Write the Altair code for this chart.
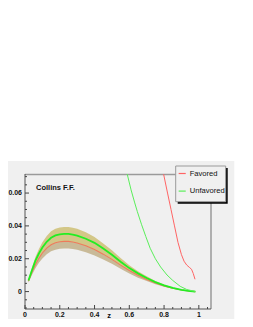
import altair as alt
import pandas as pd

# ---- data ----
z_c = [0.02, 0.04, 0.06, 0.08, 0.10, 0.125, 0.15, 0.175, 0.20, 0.225, 0.25, 0.275,
       0.30, 0.35, 0.40, 0.45, 0.50, 0.55, 0.60, 0.65, 0.70, 0.75, 0.80, 0.85,
       0.90, 0.95, 0.98]
unf_c = [0.0068, 0.0130, 0.0188, 0.0232, 0.0268, 0.0303, 0.0328, 0.0342, 0.0349,
         0.0351, 0.0351, 0.0347, 0.0341, 0.0322, 0.0297, 0.0262, 0.0224, 0.0182,
         0.0143, 0.0111, 0.0083, 0.0058, 0.0038, 0.0022, 0.0011, 0.0003, 0.0]
fav_c = [0.0064, 0.0118, 0.0165, 0.0203, 0.0235, 0.0265, 0.0285, 0.0297, 0.0303,
         0.0306, 0.0306, 0.0302, 0.0296, 0.0279, 0.0256, 0.0228, 0.0196, 0.0161,
         0.0128, 0.0099, 0.0074, 0.0052, 0.0034, 0.0020, 0.0010, 0.0003, 0.0]
band_hi = [0.0076, 0.0146, 0.0211, 0.0260, 0.0300, 0.0339, 0.0367, 0.0383, 0.0391,
           0.0393, 0.0393, 0.0389, 0.0382, 0.0361, 0.0333, 0.0293, 0.0251, 0.0204,
           0.0160, 0.0124, 0.0093, 0.0065, 0.0043, 0.0025, 0.0012, 0.0003, 0.0]
band_lo = [0.0055, 0.0101, 0.0142, 0.0175, 0.0202, 0.0228, 0.0245, 0.0255, 0.0261,
           0.0263, 0.0263, 0.0260, 0.0255, 0.0240, 0.0220, 0.0196, 0.0169, 0.0139,
           0.0110, 0.0085, 0.0064, 0.0045, 0.0029, 0.0017, 0.0009, 0.0003, 0.0]

z_unf_s = [0.575, 0.589, 0.61, 0.63, 0.646, 0.67, 0.695, 0.72, 0.75, 0.78, 0.817,
           0.85, 0.893, 0.93, 0.969, 0.98]
unf_s = [0.079, 0.0711, 0.0620, 0.0545, 0.0488, 0.0410, 0.0335, 0.0264, 0.0200,
         0.0150, 0.0101, 0.0068, 0.0032, 0.0013, 0.0003, 0.0]
z_fav_s = [0.79, 0.798, 0.82, 0.84, 0.86, 0.88, 0.90, 0.915, 0.93, 0.945, 0.958,
           0.968, 0.978]
fav_s = [0.075, 0.0712, 0.060, 0.050, 0.040, 0.030, 0.0225, 0.0185, 0.0162,
         0.0148, 0.0136, 0.011, 0.0075]

series = ["Favored", "Unfavored"]
x_major = [0, 0.2, 0.4, 0.6, 0.8, 1.0]
x_labels = ["0", "0.2", "0.4", "0.6", "0.8", "1"]
x_minor = [0.05, 0.1, 0.15, 0.25, 0.3, 0.35, 0.45, 0.5, 0.55, 0.65, 0.7, 0.75,
           0.85, 0.9, 0.95, 1.05]
y_major = [0, 0.02, 0.04, 0.06]
y_labels = ["0", "0.02", "0.04", "0.06"]
y_minor = [-0.01, -0.005, 0.005, 0.01, 0.015, 0.025, 0.03, 0.035, 0.045, 0.05,
           0.055, 0.065, 0.07]
x_title = "z"
plot_title = "Collins F.F."

W, H = 186, 135
XD = [0, 1.07]
YD = [-0.0106, 0.0716]
FONT = "Liberation Sans"

df_c = pd.DataFrame({"z": z_c, "unf": unf_c, "fav": fav_c, "hi": band_hi, "lo": band_lo})
df_s = pd.concat([
    pd.DataFrame({"z": z_fav_s, "v": fav_s, "series": series[0]}),
    pd.DataFrame({"z": z_unf_s, "v": unf_s, "series": series[1]}),
])
one = pd.DataFrame({"a": [0]})

xs = alt.Scale(domain=XD, nice=False, zero=False)
ys = alt.Scale(domain=YD, nice=False, zero=False)


def X(f):
    return alt.X(f, scale=xs, axis=None)


def Y(f):
    return alt.Y(f, scale=ys, axis=None)


canvas = alt.Chart(one).mark_rect(color="#f0f0f0").encode(
    x=alt.value(-17), x2=alt.value(209.3), y=alt.value(-13), y2=alt.value(145))

base = alt.Chart(df_c)
band_up = base.mark_area(color="#d3c787").encode(
    x=X("z:Q"), y=Y("fav:Q"), y2="hi:Q")
band_dn = base.mark_area(color="#c9ba98").encode(
    x=X("z:Q"), y=Y("lo:Q"), y2="fav:Q")

frame = alt.Chart(one).mark_rule(color="#9a9a9a", strokeWidth=1.5).encode(
    x=alt.value(0), x2=alt.value(W), y=alt.value(0.5))
frame_r = alt.Chart(one).mark_rule(color="#9a9a9a", strokeWidth=1.5).encode(
    x=alt.value(W), y=alt.value(0), y2=alt.value(H))
axis_l = alt.Chart(one).mark_rule(color="#555", strokeWidth=1).encode(
    x=alt.value(0), y=alt.value(0), y2=alt.value(H))
axis_b = alt.Chart(one).mark_rule(color="#555", strokeWidth=1).encode(
    x=alt.value(0), x2=alt.value(W), y=alt.value(H))

t_xM = alt.Chart(pd.DataFrame({"t": x_major})).mark_rule(color="#444").encode(
    x=X("t:Q"), y=alt.value(H), y2=alt.value(H - 4))
t_xm = alt.Chart(pd.DataFrame({"t": x_minor})).mark_rule(color="#444").encode(
    x=X("t:Q"), y=alt.value(H), y2=alt.value(H - 2))
t_yM = alt.Chart(pd.DataFrame({"t": y_major})).mark_rule(color="#444").encode(
    y=Y("t:Q"), x=alt.value(0), x2=alt.value(4))
t_ym = alt.Chart(pd.DataFrame({"t": y_minor})).mark_rule(color="#444").encode(
    y=Y("t:Q"), x=alt.value(0), x2=alt.value(2))

lab_x = alt.Chart(pd.DataFrame({"t": x_major, "s": x_labels})).mark_text(
    font=FONT, fontWeight="bold", fontSize=7, color="#111", align="center",
    baseline="top").encode(x=X("t:Q"), y=alt.value(H + 2), text="s:N")
lab_y = alt.Chart(pd.DataFrame({"t": y_major, "s": y_labels})).mark_text(
    font=FONT, fontWeight="bold", fontSize=7, color="#111", align="right",
    baseline="middle").encode(y=Y("t:Q"), x=alt.value(-3), text="s:N")
lab_z = alt.Chart(one).mark_text(
    text=x_title, font=FONT, fontWeight="bold", fontSize=7.5, color="#111",
    align="center", baseline="alphabetic").encode(x=alt.value(84), y=alt.value(143.5))

line_f = base.mark_line(color="#ee7a5a", strokeWidth=1.1).encode(
    x=X("z:Q"), y=Y("fav:Q"))
line_u = base.mark_line(color="#22ee22", strokeWidth=1.8).encode(
    x=X("z:Q"), y=Y("unf:Q"))

steep = alt.Chart(df_s).mark_line(strokeWidth=1, clip=True).encode(
    x=X("z:Q"),
    y=Y("v:Q"),
    color=alt.Color("series:N", scale=alt.Scale(domain=series,
                                                range=["#ff6464", "#5aee5a"]),
                    legend=alt.Legend(title=None, orient="none", legendX=152.7,
                                      legendY=-5, symbolType="stroke",
                                      symbolSize=50, symbolStrokeWidth=1.2,
                                      labelFont=FONT, labelFontSize=7.6,
                                      labelColor="#111", labelOffset=3,
                                      rowPadding=8.6, padding=0)),
    detail="series:N")

title = alt.Chart(one).mark_text(text=plot_title, font=FONT, fontWeight="bold",
                                 fontSize=7.5, align="left", baseline="alphabetic",
                                 color="#111").encode(x=alt.value(11), y=alt.value(15.5))

shadow = alt.Chart(one).mark_rect(color="#000").encode(
    x=alt.value(152.7), x2=alt.value(202.7), y=alt.value(-6), y2=alt.value(29.7))
box = alt.Chart(one).mark_rect(color="#f0f0f0", stroke="#9a9a9a", strokeWidth=1).encode(
    x=alt.value(150.7), x2=alt.value(200.7), y=alt.value(-8), y2=alt.value(27.7))

chart = alt.layer(
    canvas, band_up, band_dn, frame, frame_r, axis_l, axis_b, t_xM, t_xm, t_yM, t_ym,
    lab_x, lab_y, lab_z, line_f, line_u, steep, title, shadow, box
).properties(
    width=W, height=H,
    autosize=alt.AutoSizeParams(type="none"),
    padding={"left": 17, "top": 166, "right": 30, "bottom": 10},
    background="white",
).configure_view(stroke="transparent")

chart.save("out.html", embed_options={"renderer": "svg", "actions": False})
